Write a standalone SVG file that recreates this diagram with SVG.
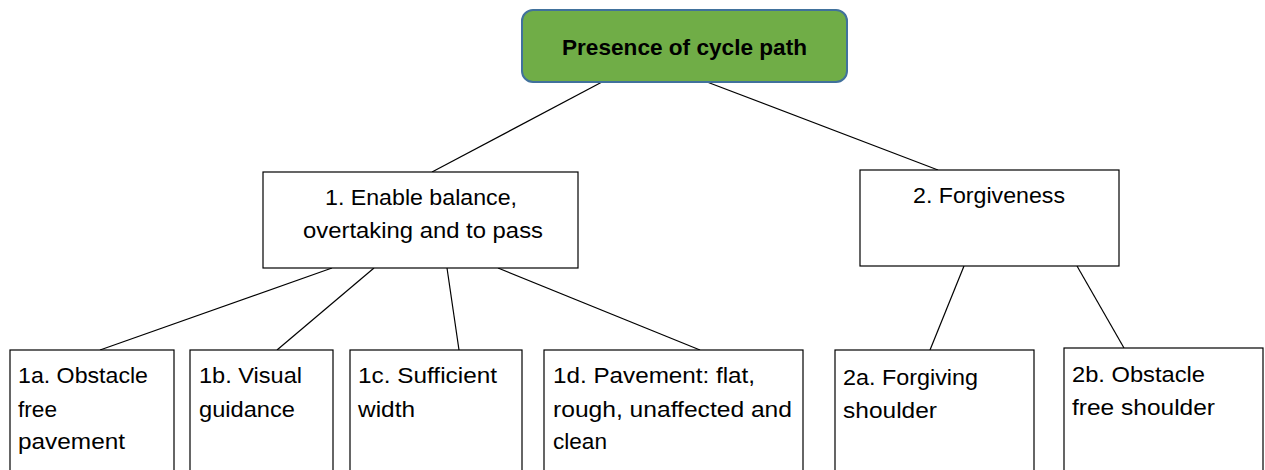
<svg xmlns="http://www.w3.org/2000/svg" width="1265" height="470" viewBox="0 0 1265 470">
<style>
.box{fill:#ffffff;stroke:#000000;stroke-width:1.2}
.root{fill:#70AD47;stroke:#41719C;stroke-width:2}
.t{font-family:"Liberation Sans",Arial,sans-serif;font-size:22.5px;fill:#000}
.tb{font-family:"Liberation Sans",Arial,sans-serif;font-size:22.5px;font-weight:bold;fill:#000}
.c{text-anchor:middle}
.conn line{stroke:#000;stroke-width:1.2}
</style>
<rect width="1265" height="470" fill="#ffffff"/>
<g class="conn" id="connectors">
<line x1="602" y1="82" x2="432" y2="172"/>
<line x1="707" y1="82" x2="938" y2="170"/>
<line x1="332" y1="268" x2="100" y2="350"/>
<line x1="374" y1="268" x2="277" y2="350"/>
<line x1="447" y1="268" x2="459" y2="350"/>
<line x1="498" y1="268" x2="700" y2="350"/>
<line x1="964" y1="266" x2="930" y2="350"/>
<line x1="1077" y1="266" x2="1124" y2="348"/>
</g>
<g id="root">
<rect class="root" x="522" y="10" width="325" height="72" rx="11"/>
<text class="tb c" x="684.5" y="55" textLength="245" lengthAdjust="spacingAndGlyphs">Presence of cycle path</text>
</g>
<g id="n1">
<rect class="box" x="263" y="172" width="315" height="96"/>
<text class="t c" x="421" y="205" textLength="192" lengthAdjust="spacingAndGlyphs">1. Enable balance,</text>
<text class="t c" x="423" y="238" textLength="240" lengthAdjust="spacingAndGlyphs">overtaking and to pass</text>
</g>
<g id="n2">
<rect class="box" x="860" y="170" width="259" height="96"/>
<text class="t c" x="989" y="203" textLength="152" lengthAdjust="spacingAndGlyphs">2. Forgiveness</text>
</g>
<g id="n1a">
<rect class="box" x="10" y="350" width="164" height="130"/>
<text class="t" x="18" y="383" textLength="130" lengthAdjust="spacingAndGlyphs">1a. Obstacle</text>
<text class="t" x="18" y="417" textLength="39" lengthAdjust="spacingAndGlyphs">free</text>
<text class="t" x="18" y="449" textLength="107" lengthAdjust="spacingAndGlyphs">pavement</text>
</g>
<g id="n1b">
<rect class="box" x="190" y="350" width="143" height="130"/>
<text class="t" x="199" y="383" textLength="103" lengthAdjust="spacingAndGlyphs">1b. Visual</text>
<text class="t" x="199" y="417" textLength="96" lengthAdjust="spacingAndGlyphs">guidance</text>
</g>
<g id="n1c">
<rect class="box" x="350" y="350" width="172" height="130"/>
<text class="t" x="358" y="383" textLength="139" lengthAdjust="spacingAndGlyphs">1c. Sufficient</text>
<text class="t" x="358" y="417" textLength="57" lengthAdjust="spacingAndGlyphs">width</text>
</g>
<g id="n1d">
<rect class="box" x="544" y="350" width="259" height="130"/>
<text class="t" x="553" y="383" textLength="202" lengthAdjust="spacingAndGlyphs">1d. Pavement: flat,</text>
<text class="t" x="553" y="417" textLength="239" lengthAdjust="spacingAndGlyphs">rough, unaffected and</text>
<text class="t" x="553" y="449" textLength="54" lengthAdjust="spacingAndGlyphs">clean</text>
</g>
<g id="n2a">
<rect class="box" x="835" y="350" width="199" height="130"/>
<text class="t" x="843" y="385" textLength="135" lengthAdjust="spacingAndGlyphs">2a. Forgiving</text>
<text class="t" x="843" y="418" textLength="94" lengthAdjust="spacingAndGlyphs">shoulder</text>
</g>
<g id="n2b">
<rect class="box" x="1064" y="348" width="199" height="132"/>
<text class="t" x="1072" y="382" textLength="133" lengthAdjust="spacingAndGlyphs">2b. Obstacle</text>
<text class="t" x="1072" y="415" textLength="143" lengthAdjust="spacingAndGlyphs">free shoulder</text>
</g>
</svg>
